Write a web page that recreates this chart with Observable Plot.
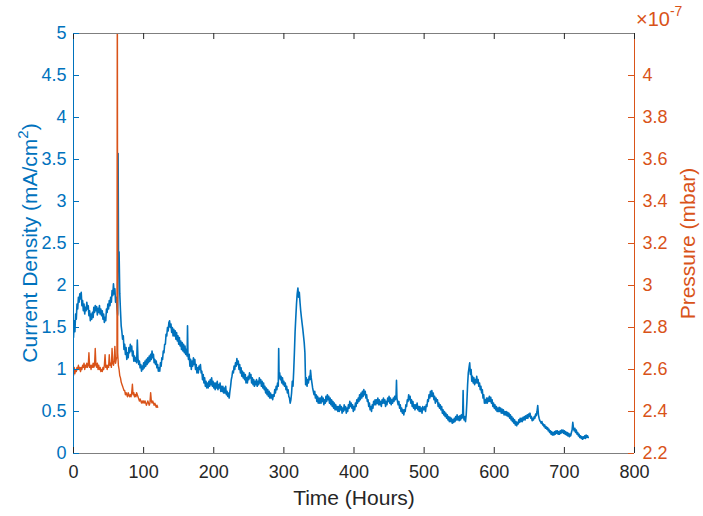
<!DOCTYPE html>
<html><head><meta charset="utf-8">
<script src="https://cdn.jsdelivr.net/npm/d3@7"></script>
<script src="https://cdn.jsdelivr.net/npm/@observablehq/plot@0.6"></script>
<style>body{margin:0;background:#fff}#chart svg{font-family:"Liberation Sans",Arial,sans-serif;display:block}</style>
</head><body><div id="chart"></div>
<script>
// Current density (mA/cm^2) vs time (hours)
const currentSeries = [[0,1.38],[1,1.58],[2,1.45],[3,1.66],[4,1.60],[5,1.78],[6,1.72],[7,1.86],[8,1.80],[9,1.90],[10,1.84],[11,1.92],[12,1.76],[13,1.82],[14,1.70],[15,1.78],[16,1.66],[17,1.74],[18,1.70],[19,1.80],[20,1.72],[21,1.76],[22,1.64],[23,1.70],[24,1.58],[25,1.66],[26,1.60],[27,1.68],[28,1.62],[29,1.74],[30,1.68],[31,1.76],[32,1.70],[33,1.75],[34,1.65],[35,1.73],[36,1.68],[37,1.76],[38,1.66],[39,1.72],[40,1.64],[41,1.70],[42,1.60],[43,1.66],[44,1.56],[45,1.62],[46,1.58],[47,1.72],[48,1.68],[49,1.78],[50,1.72],[51,1.82],[52,1.76],[53,1.86],[54,1.80],[55,1.94],[56,1.88],[57,2.02],[58,1.90],[59,1.96],[60,1.80],[61,1.86],[62,1.74],[63,1.65],[63.6,3.57],[64.2,2.30],[65,2.40],[66,1.90],[67,1.70],[68,1.52],[69,1.45],[70,1.36],[71,1.40],[72,1.24],[73,1.30],[74,1.18],[75,1.26],[76,1.12],[77,1.20],[78,1.14],[79,1.26],[80,1.20],[81,1.30],[82,1.22],[83,1.28],[84,1.16],[85,1.22],[86,1.10],[87,1.16],[88,1.10],[89,1.14],[90,1.08],[91,1.35],[92,1.12],[93,1.06],[94,1.10],[95,1.02],[96,1.06],[97,0.98],[98,1.04],[99,1.00],[100,1.08],[101,1.02],[102,1.10],[103,1.04],[104,1.12],[105,1.06],[106,1.14],[107,1.08],[108,1.16],[109,1.10],[110,1.18],[111,1.12],[112,1.22],[113,1.14],[114,1.18],[115,1.08],[116,1.12],[117,1.06],[118,1.10],[119,1.02],[120,1.06],[121,0.98],[122,1.02],[123,0.98],[124,1.08],[125,1.04],[126,1.14],[127,1.12],[128,1.22],[129,1.20],[130,1.30],[131,1.30],[132,1.42],[133,1.40],[134,1.50],[135,1.46],[136,1.56],[137,1.58],[138,1.50],[139,1.54],[140,1.44],[141,1.50],[142,1.40],[143,1.48],[144,1.40],[145,1.46],[146,1.36],[147,1.44],[148,1.34],[149,1.40],[150,1.30],[151,1.38],[152,1.28],[153,1.34],[154,1.24],[155,1.32],[156,1.22],[157,1.30],[158,1.20],[159,1.28],[160,1.18],[161,1.24],[162,1.16],[162.6,1.52],[163.2,1.18],[164,1.12],[165,1.18],[166,1.04],[167,1.12],[168,1.00],[169,1.10],[170,1.04],[171,1.14],[172,1.06],[173,1.12],[174,1.00],[175,1.06],[176,0.96],[177,1.02],[178,0.96],[179,1.04],[180,1.00],[181,1.06],[182,0.96],[183,0.98],[184,0.88],[185,0.94],[186,0.84],[187,0.90],[188,0.80],[189,0.86],[190,0.78],[191,0.84],[192,0.78],[193,0.86],[194,0.80],[195,0.88],[196,0.82],[197,0.90],[198,0.80],[199,0.86],[200,0.78],[201,0.84],[202,0.76],[203,0.84],[204,0.78],[205,0.86],[206,0.76],[207,0.82],[208,0.78],[209,0.84],[210,0.74],[211,0.80],[212,0.74],[213,0.80],[214,0.72],[215,0.78],[216,0.72],[217,0.80],[218,0.70],[219,0.74],[220,0.68],[221,0.72],[222,0.66],[223,0.74],[224,0.80],[225,0.88],[226,0.92],[227,0.98],[228,0.96],[229,1.04],[230,1.00],[231,1.08],[232,1.04],[233,1.13],[234,1.06],[235,1.10],[236,1.00],[237,1.06],[238,0.96],[239,1.02],[240,0.92],[241,0.98],[242,0.90],[243,0.96],[244,0.88],[245,0.94],[246,0.84],[247,0.90],[248,0.84],[249,0.92],[250,0.88],[251,0.96],[252,0.90],[253,0.94],[254,0.84],[255,0.90],[256,0.82],[257,0.88],[258,0.80],[259,0.86],[260,0.82],[261,0.88],[262,0.80],[263,0.86],[264,0.82],[265,0.90],[266,0.84],[267,0.88],[268,0.80],[269,0.86],[270,0.78],[271,0.84],[272,0.76],[273,0.80],[274,0.72],[275,0.78],[276,0.70],[277,0.76],[278,0.68],[279,0.74],[280,0.66],[281,0.72],[282,0.66],[283,0.70],[284,0.64],[285,0.70],[286,0.68],[287,0.76],[288,0.72],[289,0.80],[290,0.76],[291,0.84],[292,0.80],[292.6,1.25],[293.2,0.90],[294,0.96],[295,0.88],[296,0.92],[297,0.84],[298,0.90],[299,0.82],[300,0.86],[301,0.80],[302,0.84],[303,0.76],[304,0.80],[305,0.72],[306,0.76],[307,0.68],[308,0.66],[309,0.60],[310,0.64],[311,0.72],[312,0.86],[313,0.80],[314,0.98],[315,1.20],[316,1.45],[317,1.62],[318,1.78],[319,1.90],[320,1.97],[321,1.86],[322,1.92],[323,1.80],[324,1.70],[325,1.62],[326,1.55],[327,1.48],[328,1.40],[329,1.32],[330,1.20],[331,0.82],[332,0.90],[333,0.80],[334,0.88],[335,0.84],[336,0.92],[337,0.88],[338,0.99],[339,0.90],[340,0.84],[341,0.78],[342,0.74],[343,0.70],[344,0.74],[345,0.66],[346,0.70],[347,0.62],[348,0.68],[349,0.60],[350,0.66],[351,0.60],[352,0.66],[353,0.60],[354,0.68],[355,0.62],[356,0.66],[357,0.58],[358,0.64],[359,0.60],[360,0.68],[361,0.62],[362,0.70],[363,0.64],[364,0.68],[365,0.60],[366,0.66],[367,0.58],[368,0.64],[369,0.56],[370,0.62],[371,0.54],[372,0.60],[373,0.52],[374,0.58],[375,0.52],[376,0.56],[377,0.50],[378,0.56],[379,0.50],[380,0.58],[381,0.52],[382,0.56],[383,0.48],[384,0.54],[385,0.50],[386,0.58],[387,0.52],[388,0.56],[389,0.48],[390,0.54],[391,0.50],[392,0.58],[393,0.54],[394,0.62],[395,0.56],[396,0.60],[397,0.54],[398,0.58],[399,0.50],[400,0.56],[401,0.52],[402,0.60],[403,0.56],[404,0.64],[405,0.60],[406,0.66],[407,0.62],[408,0.70],[409,0.64],[410,0.72],[411,0.66],[412,0.74],[413,0.68],[414,0.76],[415,0.70],[416,0.74],[417,0.66],[418,0.70],[419,0.62],[420,0.64],[421,0.56],[422,0.60],[423,0.52],[424,0.56],[425,0.50],[426,0.58],[427,0.54],[428,0.62],[429,0.58],[430,0.64],[431,0.58],[432,0.64],[433,0.60],[434,0.66],[435,0.58],[436,0.64],[437,0.58],[438,0.62],[439,0.56],[440,0.64],[441,0.60],[442,0.66],[443,0.60],[444,0.64],[445,0.56],[446,0.62],[447,0.58],[448,0.66],[449,0.62],[450,0.68],[451,0.60],[452,0.66],[453,0.58],[454,0.64],[455,0.60],[456,0.66],[457,0.62],[458,0.68],[459,0.64],[460,0.70],[460.6,0.87],[461.2,0.66],[462,0.62],[463,0.58],[464,0.62],[465,0.54],[466,0.58],[467,0.50],[468,0.54],[469,0.48],[470,0.52],[471,0.46],[472,0.52],[473,0.50],[474,0.58],[475,0.56],[476,0.64],[477,0.62],[478,0.70],[479,0.64],[480,0.68],[481,0.60],[482,0.64],[483,0.56],[484,0.62],[485,0.54],[486,0.58],[487,0.52],[488,0.58],[489,0.54],[490,0.60],[491,0.52],[492,0.56],[493,0.50],[494,0.56],[495,0.50],[496,0.54],[497,0.48],[498,0.56],[499,0.52],[500,0.52],[501,0.56],[502,0.50],[503,0.58],[504,0.56],[505,0.64],[506,0.62],[507,0.70],[508,0.66],[509,0.74],[510,0.68],[511,0.75],[512,0.68],[513,0.72],[514,0.64],[515,0.68],[516,0.60],[517,0.66],[518,0.62],[519,0.64],[520,0.56],[521,0.60],[522,0.54],[523,0.58],[524,0.52],[525,0.56],[526,0.48],[527,0.52],[528,0.46],[529,0.50],[530,0.44],[531,0.48],[532,0.42],[533,0.46],[534,0.40],[535,0.44],[536,0.38],[537,0.43],[538,0.38],[539,0.42],[540,0.36],[541,0.40],[542,0.37],[543,0.42],[544,0.38],[545,0.44],[546,0.40],[547,0.46],[548,0.40],[549,0.44],[550,0.39],[551,0.45],[552,0.40],[553,0.46],[554,0.42],[555,0.48],[555.6,0.75],[556.2,0.44],[557,0.40],[558,0.44],[559,0.38],[560,0.46],[561,0.62],[562,0.82],[563,0.96],[564,1.02],[565,1.08],[566,0.94],[567,1.00],[568,0.86],[569,0.92],[570,0.84],[571,0.90],[572,0.82],[573,0.88],[574,0.84],[575,0.92],[576,0.84],[577,0.88],[578,0.80],[579,0.84],[580,0.76],[581,0.80],[582,0.72],[583,0.76],[584,0.66],[585,0.70],[586,0.60],[587,0.64],[588,0.60],[589,0.66],[590,0.60],[591,0.66],[592,0.62],[593,0.68],[594,0.62],[595,0.67],[596,0.60],[597,0.64],[598,0.56],[599,0.60],[600,0.54],[601,0.58],[602,0.52],[603,0.56],[604,0.50],[605,0.54],[606,0.50],[607,0.55],[608,0.50],[609,0.54],[610,0.48],[611,0.53],[612,0.48],[613,0.52],[614,0.46],[615,0.50],[616,0.46],[617,0.50],[618,0.45],[619,0.49],[620,0.44],[621,0.48],[622,0.42],[623,0.46],[624,0.40],[625,0.44],[626,0.38],[627,0.42],[628,0.36],[629,0.40],[630,0.34],[631,0.38],[632,0.33],[633,0.37],[634,0.35],[635,0.40],[636,0.37],[637,0.42],[638,0.38],[639,0.42],[640,0.38],[641,0.43],[642,0.40],[643,0.44],[644,0.40],[645,0.45],[646,0.42],[647,0.46],[648,0.42],[649,0.47],[650,0.44],[651,0.48],[652,0.42],[653,0.44],[654,0.39],[655,0.42],[656,0.40],[657,0.44],[658,0.42],[659,0.47],[660,0.45],[661,0.50],[662,0.57],[663,0.46],[664,0.42],[665,0.39],[666,0.38],[667,0.36],[668,0.38],[669,0.34],[670,0.35],[671,0.32],[672,0.34],[673,0.30],[674,0.32],[675,0.29],[676,0.31],[677,0.27],[678,0.29],[679,0.25],[680,0.27],[681,0.23],[682,0.26],[683,0.22],[684,0.25],[685,0.22],[686,0.26],[687,0.23],[688,0.27],[689,0.24],[690,0.27],[691,0.23],[692,0.26],[693,0.23],[694,0.27],[695,0.24],[696,0.28],[697,0.25],[698,0.28],[699,0.24],[700,0.27],[701,0.23],[702,0.26],[703,0.22],[704,0.25],[705,0.21],[706,0.24],[707,0.20],[708,0.23],[709,0.21],[710,0.25],[711,0.28],[712,0.37],[713,0.30],[714,0.27],[715,0.30],[716,0.25],[717,0.28],[718,0.23],[719,0.25],[720,0.21],[721,0.23],[722,0.19],[723,0.21],[724,0.18],[725,0.20],[726,0.17],[727,0.20],[728,0.18],[729,0.21],[730,0.18],[731,0.22],[732,0.19],[733,0.21],[734,0.19]];

// Pressure (units of 1e-7 mbar) vs time (hours)
const pressureSeries = [[0,2.57],[1,2.61],[2,2.58],[3,2.60],[4,2.59],[5,2.61],[6,2.60],[7,2.62],[8,2.60],[9,2.61],[10,2.59],[11,2.61],[12,2.60],[13,2.62],[14,2.61],[15,2.63],[16,2.60],[17,2.62],[18,2.61],[19,2.63],[20,2.61],[21,2.62],[22,2.68],[23,2.61],[24,2.62],[25,2.60],[26,2.62],[27,2.61],[28,2.63],[29,2.61],[30,2.62],[31,2.70],[32,2.62],[33,2.61],[34,2.63],[35,2.60],[36,2.62],[37,2.60],[38,2.61],[39,2.59],[40,2.60],[41,2.59],[42,2.61],[43,2.60],[44,2.62],[45,2.67],[46,2.61],[47,2.62],[48,2.60],[49,2.62],[50,2.61],[51,2.67],[52,2.62],[53,2.63],[54,2.61],[55,2.70],[56,2.63],[57,2.62],[58,2.64],[59,2.71],[60,2.63],[61,2.65],[62,2.66],[62.5,4.6],[63,2.68],[64,2.62],[65,2.60],[66,2.57],[67,2.56],[68,2.54],[69,2.53],[70,2.52],[71,2.51],[72,2.50],[73,2.50],[74,2.48],[75,2.49],[76,2.48],[77,2.47],[78,2.49],[79,2.48],[80,2.47],[81,2.48],[82,2.47],[83,2.49],[84,2.53],[85,2.48],[86,2.49],[87,2.47],[88,2.48],[89,2.47],[90,2.49],[91,2.48],[92,2.47],[93,2.46],[94,2.45],[95,2.46],[96,2.45],[97,2.44],[98,2.45],[99,2.44],[100,2.45],[101,2.44],[102,2.45],[103,2.44],[104,2.43],[105,2.44],[106,2.45],[107,2.44],[108,2.43],[109,2.44],[110,2.49],[111,2.45],[112,2.44],[113,2.45],[114,2.44],[115,2.43],[116,2.44],[117,2.43],[118,2.42],[119,2.43],[120,2.42]];

const xTicks = [0,100,200,300,400,500,600,700,800];
const currentTicks = [0,0.5,1,1.5,2,2.5,3,3.5,4,4.5,5];
const pressureTicks = [2.2,2.4,2.6,2.8,3,3.2,3.4,3.6,3.8,4];
const xDomain = [0,800];
const currentDomain = [0,5];
const pressureDomain = [2.2,4.2];
const pressureExponent = "-7";

const blue = "#0072BD", orange = "#D95319", dark = "#262626", axisGray = "#7f7f7f";
const W = 703, H = 516, mL = 73, mR = 69, mT = 33, mB = 63;
const plotW = W - mL - mR, plotH = H - mT - mB;
const toY = p => (p - pressureDomain[0]) / (pressureDomain[1] - pressureDomain[0]) * (currentDomain[1] - currentDomain[0]) + currentDomain[0];
const fromY = y => (y - currentDomain[0]) / (currentDomain[1] - currentDomain[0]) * (pressureDomain[1] - pressureDomain[0]) + pressureDomain[0];
const tick = 6;

const chart = Plot.plot({
  width: W, height: H,
  marginLeft: mL, marginRight: mR, marginTop: mT, marginBottom: mB,
  x: {domain: xDomain},
  y: {domain: currentDomain},
  style: {fontFamily: '"Liberation Sans", Arial, sans-serif', fontSize: "18px", background: "white", overflow: "visible"},
  marks: [
    Plot.line(currentSeries, {x: d => d[0], y: d => d[1], stroke: blue, strokeWidth: 1.6, clip: true}),
    Plot.line(pressureSeries, {x: d => d[0], y: d => toY(d[1]), stroke: orange, strokeWidth: 1.4, clip: true}),
    // frame
    Plot.ruleY([currentDomain[0]], {stroke: axisGray, strokeWidth: 1}),
    Plot.ruleY([currentDomain[1]], {stroke: axisGray, strokeWidth: 1}),
    Plot.ruleX([xDomain[0]], {stroke: blue, strokeWidth: 1}),
    Plot.ruleX([xDomain[1]], {stroke: orange, strokeWidth: 1}),
    // inward ticks
    Plot.tickX(xTicks, {x: d => d, insetTop: plotH - tick, stroke: dark, strokeWidth: 1}),
    Plot.tickX(xTicks, {x: d => d, insetBottom: plotH - tick, stroke: dark, strokeWidth: 1}),
    Plot.tickY(currentTicks, {y: d => d, insetRight: plotW - tick, stroke: blue, strokeWidth: 1}),
    Plot.tickY(pressureTicks.map(toY), {y: d => d, insetLeft: plotW - tick, stroke: orange, strokeWidth: 1}),
    // tick labels
    Plot.axisX(xTicks, {tickSize: 0, tickPadding: 12, fill: dark, fontSize: 18, label: null}),
    Plot.axisY(currentTicks, {anchor: "left", tickSize: 0, tickPadding: 7, fill: blue, fontSize: 18, label: null, tickFormat: d => String(d)}),
    Plot.axisY(pressureTicks.map(toY), {anchor: "right", tickSize: 0, tickPadding: 8, fill: orange, fontSize: 18, label: null, tickFormat: d => String(+fromY(d).toFixed(1))}),
    // axis titles
    Plot.text(["Time (Hours)"], {frameAnchor: "bottom", dy: 45, lineAnchor: "middle", textAnchor: "middle", fontSize: 21, fill: dark}),
    Plot.text(["Pressure (mbar)"], {frameAnchor: "right", dx: 54, rotate: -90, lineAnchor: "middle", textAnchor: "middle", fontSize: 21, fill: orange})
  ]
});

// left axis title with superscript, and the ×10^-7 multiplier
const svg = d3.select(chart);
const lt = svg.append("text")
  .attr("transform", `translate(30.5,${mT + plotH / 2}) rotate(-90)`)
  .attr("text-anchor", "middle").attr("dy", "0.32em")
  .attr("fill", blue).style("font-size", "21px");
lt.append("tspan").text("Current Density (mA/cm");
lt.append("tspan").style("font-size", "15px").attr("dy", "-0.6em").text("2");
lt.append("tspan").attr("dy", "0.42em").text(")");

const ex = svg.append("text")
  .attr("x", W - mR + 2).attr("y", 26)
  .attr("text-anchor", "start")
  .attr("fill", orange).style("font-size", "20px");
ex.append("tspan").text("×10");
ex.append("tspan").style("font-size", "14px").attr("dy", "-10").text(pressureExponent);

document.getElementById("chart").append(chart);
</script>
</body></html>
